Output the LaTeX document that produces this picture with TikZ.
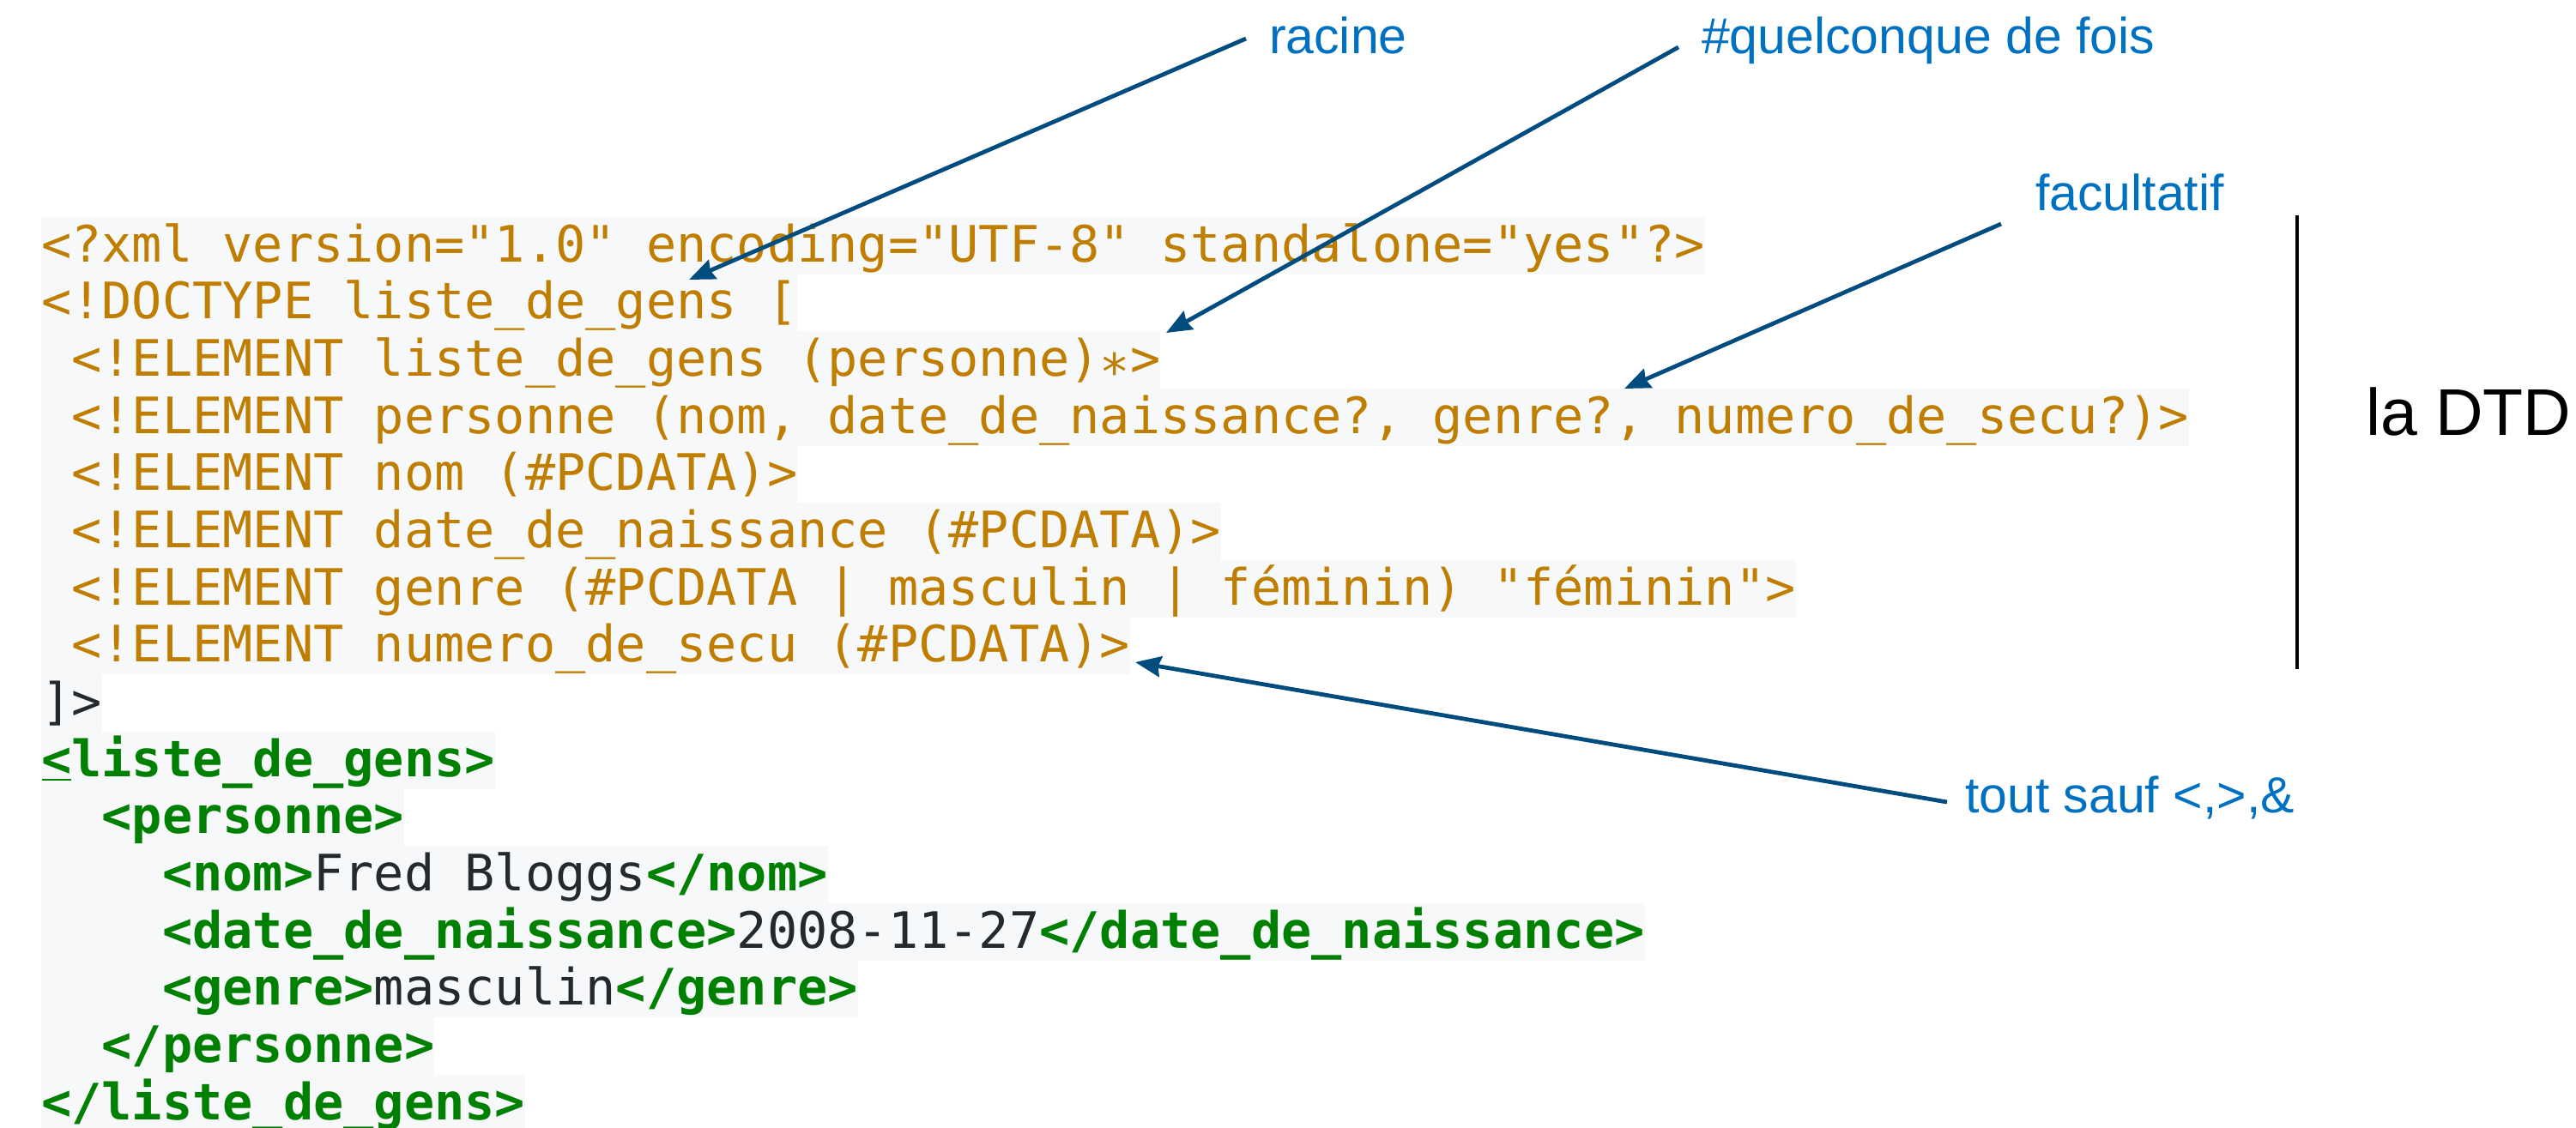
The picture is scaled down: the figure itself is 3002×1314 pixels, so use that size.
\documentclass[tikz,border=0pt]{standalone}
\usepackage{fontspec}
\setmonofont{DejaVu Sans Mono}
\setsansfont{Liberation Sans}
\usetikzlibrary{arrows.meta}
\definecolor{codeor}{RGB}{192,126,0}
\definecolor{codebg}{HTML}{F6F8FA}
\definecolor{codegr}{RGB}{0,128,0}
\definecolor{codedk}{HTML}{24292E}
\definecolor{annblue}{HTML}{0070C0}
\definecolor{arrblue}{HTML}{004C7F}
\newcommand\tg[1]{\textcolor{codegr}{\textbf{#1}}}
\begin{document}
\begin{tikzpicture}[x=0.5pt,y=-0.5pt,
  codeline/.style={anchor=base west, fill=codebg, inner sep=0pt, outer sep=0pt,
    text height=26pt, text depth=7.3pt, font=\ttfamily\fontsize{29.28pt}{33pt}\selectfont},
  dtd/.style={codeline, text=codeor},
  xml/.style={codeline, text=codedk},
  ann/.style={anchor=base west, inner sep=0pt, outer sep=0pt, text=annblue,
    font=\sffamily\fontsize{29.5pt}{34pt}\selectfont},
  arr/.style={draw=arrblue, line width=2.4pt, -{Stealth[length=15pt,width=12pt,inset=1.5pt]}},
]
\useasboundingbox (0,0) rectangle (3002,1314);

% code lines
\node[dtd] (l1) at (48,305) {<?xml version="1.0" encoding="UTF-8" standalone="yes"?>};
\node[dtd] (l2) at (48,371.67) {<!DOCTYPE liste\_de\_gens [};
\node[dtd] (l3) at (48,438.33) {\phantom{x}<!ELEMENT liste\_de\_gens (personne)\raisebox{-0.28em}[\height][0pt]{*}>};
\node[dtd] (l4) at (48,505) {\phantom{x}<!ELEMENT personne (nom, date\_de\_naissance?, genre?, numero\_de\_secu?)>};
\node[dtd] (l5) at (48,571.67) {\phantom{x}<!ELEMENT nom (\#PCDATA)>};
\node[dtd] (l6) at (48,638.33) {\phantom{x}<!ELEMENT date\_de\_naissance (\#PCDATA)>};
\node[dtd] (l7) at (48,705) {\phantom{x}<!ELEMENT genre (\#PCDATA | masculin | féminin) "féminin">};
\node[dtd] (l8) at (48,771.67) {\phantom{x}<!ELEMENT numero\_de\_secu (\#PCDATA)>};
\node[xml] (l9) at (48,838.33) {]>};
\node[xml] (l10) at (48,905) {\tg{<liste\_de\_gens>}};
\node[xml] (l11) at (48,971.67) {\phantom{xx}\tg{<personne>}};
\node[xml] (l12) at (48,1038.33) {\phantom{xxxx}\tg{<nom>}Fred Bloggs\tg{</nom>}};
\node[xml] (l13) at (48,1105) {\phantom{xxxx}\tg{<date\_de\_naissance>}2008-11-27\tg{</date\_de\_naissance>}};
\node[xml] (l14) at (48,1171.67) {\phantom{xxxx}\tg{<genre>}masculin\tg{</genre>}};
\node[xml] (l15) at (48,1238.33) {\phantom{xx}\tg{</personne>}};
\node[xml] (l16) at (48,1305) {\tg{</liste\_de\_gens>}};
\draw[codegr, line width=1pt] ([shift={(1,4)}]l10.base west) -- ++(34,0);

% annotations
\node[ann] (racine) at (1479,62) {racine};
\node[ann] (quel) at (1983,62) {\#quelconque de fois};
\node[ann] (fac) at (2372,245) {facultatif};
\node[ann] (tout) at (2290,947) {tout sauf <,>,\&};
\node[anchor=base west, inner sep=0pt, outer sep=0pt,
  font=\sffamily\fontsize{38.5pt}{44pt}\selectfont] (dtdlab) at (2757,507) {la DTD};
\draw[line width=2pt] (2677,251) -- (2677,780);

% arrow ends
\coordinate (t1) at (803,326);
\coordinate (t2) at (1359,388);
\coordinate (t3) at (1893,453);
\coordinate (t4) at (1323,772);
\draw[arr] ([shift={(-27,-17)}]racine.base west) -- (t1);
\draw[arr] ([shift={(-27,-7)}]quel.base west) -- (t2);
\draw[arr] ([shift={(-40,16)}]fac.base west) -- (t3);
\draw[arr] ([shift={(-21,-12)}]tout.base west) -- (t4);
\end{tikzpicture}
\end{document}
